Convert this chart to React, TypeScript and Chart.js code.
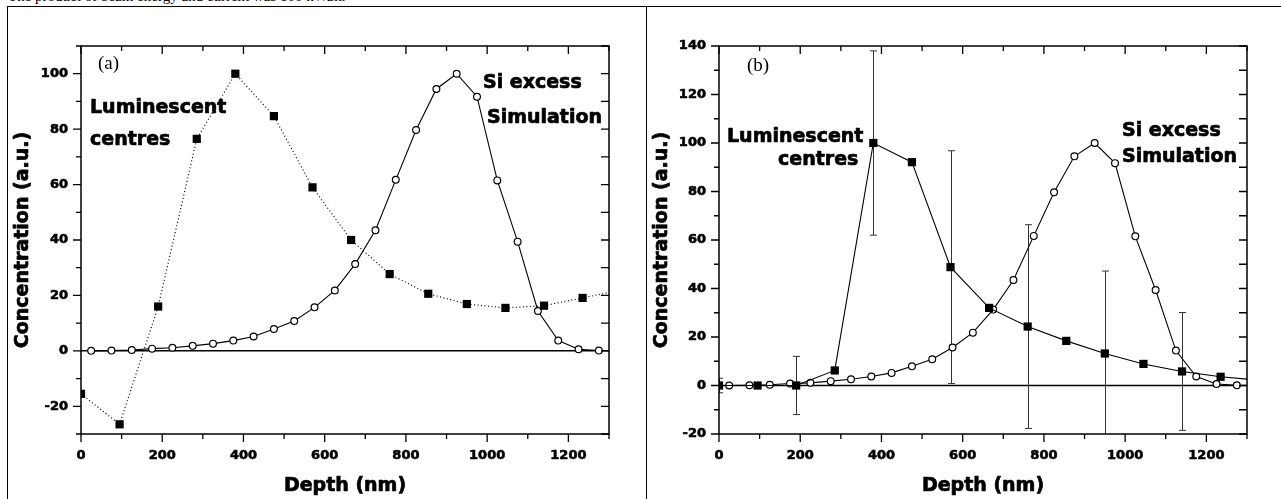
import React, { useEffect, useRef } from "react";
import { Chart, registerables } from "chart.js";
Chart.register(...registerables);

// ---------- data ----------
const depthLumA = [0, 95, 190, 285, 380, 475, 570, 665, 760, 855, 950, 1045, 1140, 1235, 1330];
const lumA = [-15.5, -26.5, 16, 76.5, 100, 84.7, 59, 40, 27.7, 20.6, 16.9, 15.5, 16.3, 19.1, 22];

const depthSim = [25, 75, 125, 175, 225, 275, 325, 375, 425, 475, 525, 575, 625, 675, 725, 775, 825, 875, 925, 975, 1025, 1075, 1125, 1175, 1225, 1275];
const simValues = [0, 0.1, 0.3, 0.8, 1.1, 1.8, 2.6, 3.7, 5.2, 7.9, 10.8, 15.7, 21.8, 31.3, 43.5, 61.7, 79.7, 94.5, 100, 91.7, 61.5, 39.4, 14.4, 3.7, 0.6, 0.1];

const depthLumB = [0, 95, 190, 285, 380, 475, 570, 665, 760, 855, 950, 1045, 1140, 1235, 1330];
const lumB = [0, 0, 0, 6.2, 100, 92.1, 48.8, 32, 24.3, 18.4, 13.2, 8.9, 5.8, 3.6, 2.2];
const lumBErr = [3, 0, 12, 0, 38, 0, 48, 0, 42, 0, 34, 0, 24.3, 0, 0];

const xTicks = [0, 200, 400, 600, 800, 1000, 1200];
const yTicksA = [-20, 0, 20, 40, 60, 80, 100];
const yTicksB = [-20, 0, 20, 40, 60, 80, 100, 120, 140];

const xTitle = "Depth (nm)";
const yTitle = "Concentration (a.u.)";
const headerText = "The product of beam energy and current was 100 kWatt.";

const SANS = "'DejaVu Sans', sans-serif";
const SERIF = "'Liberation Serif', 'Times New Roman', serif";

type Ann = { text: string; dx: number; dy: number; font: string; heavy?: boolean };

function pts(xs: number[], ys: number[]) {
  return xs.map((x, i) => ({ x, y: ys[i] }));
}

function heavyText(ctx: CanvasRenderingContext2D, text: string, x: number, y: number) {
  ctx.fillText(text, x, y);
  ctx.strokeText(text, x, y);
}

function makePlugin(cfg: {
  xMin: number; xMax: number; yMin: number; yMax: number;
  err?: { xs: number[]; ys: number[]; e: number[] };
  anns: Ann[];
}) {
  return {
    id: "frameDeco",
    beforeDatasetsDraw(chart: any) {
      const { ctx, chartArea: a, scales } = chart;
      const x = scales.x, y = scales.y;
      ctx.save();
      ctx.beginPath();
      ctx.rect(a.left, a.top, a.right - a.left, a.bottom - a.top);
      ctx.clip();
      const y0 = y.getPixelForValue(0);
      ctx.strokeStyle = "#000";
      ctx.lineWidth = 1.5;
      ctx.beginPath();
      ctx.moveTo(a.left, y0);
      ctx.lineTo(a.right, y0);
      ctx.stroke();
      if (cfg.err) {
        ctx.strokeStyle = "#333";
        ctx.lineWidth = 1;
        cfg.err.xs.forEach((xv, i) => {
          const e = cfg.err!.e[i];
          if (!e) return;
          const px = Math.round(x.getPixelForValue(xv)) + 0.5;
          const top = y.getPixelForValue(cfg.err!.ys[i] + e);
          const bot = y.getPixelForValue(cfg.err!.ys[i] - e);
          ctx.beginPath();
          ctx.moveTo(px, top);
          ctx.lineTo(px, bot);
          ctx.moveTo(px - 3.5, top);
          ctx.lineTo(px + 3.5, top);
          ctx.moveTo(px - 3.5, bot);
          ctx.lineTo(px + 3.5, bot);
          ctx.stroke();
        });
      }
      ctx.restore();
    },
    afterDraw(chart: any) {
      const { ctx, chartArea: a, scales } = chart;
      const x = scales.x, y = scales.y;
      ctx.save();
      ctx.strokeStyle = "#000";
      ctx.lineWidth = 1.5;
      ctx.strokeRect(a.left, a.top, a.right - a.left, a.bottom - a.top);
      ctx.lineWidth = 1.3;
      ctx.beginPath();
      for (let v = cfg.xMin; v <= cfg.xMax; v += 100) {
        const px = x.getPixelForValue(v);
        const major = v % 200 === 0;
        const len = major ? 8 : 5;
        ctx.moveTo(px, a.bottom);
        ctx.lineTo(px, a.bottom + len);
        ctx.moveTo(px, a.top);
        ctx.lineTo(px, a.top + len);
      }
      for (let v = cfg.yMin; v <= cfg.yMax; v += 10) {
        const py = y.getPixelForValue(v);
        const major = v % 20 === 0;
        const len = major ? 8 : 5;
        ctx.moveTo(a.left - len, py);
        ctx.lineTo(a.left, py);
        ctx.moveTo(a.right - 8, py);
        ctx.lineTo(a.right, py);
      }
      ctx.stroke();

      ctx.fillStyle = "#000";
      ctx.strokeStyle = "#000";
      ctx.lineWidth = 0.7;
      ctx.lineJoin = "round";
      // axis titles
      ctx.font = `bold 19px ${SANS}`;
      ctx.textAlign = "center";
      ctx.textBaseline = "middle";
      heavyText(ctx, xTitle, (a.left + a.right) / 2, 479);
      ctx.save();
      ctx.translate(15, (a.top + a.bottom) / 2);
      ctx.rotate(-Math.PI / 2);
      heavyText(ctx, yTitle, 0, 0);
      ctx.restore();
      // annotations
      ctx.textBaseline = "alphabetic";
      ctx.textAlign = "left";
      cfg.anns.forEach((an) => {
        ctx.font = an.font;
        if (an.heavy) heavyText(ctx, an.text, a.left + an.dx, a.top + an.dy);
        else ctx.fillText(an.text, a.left + an.dx, a.top + an.dy);
      });
      ctx.restore();
    },
  };
}

function makeConfig(opts: {
  datasets: any[]; yTicks: number[]; yMin: number; yMax: number;
  padRight: number; yWidth: number; plugin: any;
}) {
  const tickFont = { family: SANS, weight: "bold" as const, size: 13 };
  return {
    type: "line" as const,
    data: { datasets: opts.datasets },
    plugins: [opts.plugin],
    options: {
      animation: false as const,
      responsive: false,
      maintainAspectRatio: false,
      layout: { padding: { left: 0, top: 39, right: opts.padRight, bottom: 0 } },
      plugins: { legend: { display: false }, tooltip: { enabled: false } },
      events: [],
      scales: {
        x: {
          type: "linear" as const,
          min: 0,
          max: 1300,
          afterBuildTicks: (s: any) => { s.ticks = xTicks.map((v) => ({ value: v })); },
          afterFit: (s: any) => { s.height = 65; },
          grid: { display: false, drawTicks: false },
          border: { display: false },
          ticks: {
            font: tickFont, color: "#000", padding: 14, maxRotation: 0, autoSkip: false,
            textStrokeColor: "#000", textStrokeWidth: 0.6,
            callback: (v: any) => String(v),
          },
          title: { display: false },
        },
        y: {
          type: "linear" as const,
          min: opts.yMin,
          max: opts.yMax,
          afterBuildTicks: (s: any) => { s.ticks = opts.yTicks.map((v) => ({ value: v })); },
          afterFit: (s: any) => { s.width = opts.yWidth; },
          grid: { display: false, drawTicks: false },
          border: { display: false },
          ticks: {
            font: tickFont, color: "#000", padding: 13, autoSkip: false,
            textStrokeColor: "#000", textStrokeWidth: 0.6,
            callback: (v: any) => String(v),
          },
          title: { display: false },
        },
      },
    },
  };
}

const squareStyle = {
  pointStyle: "rect",
  pointRadius: 5.8,
  pointBackgroundColor: "#000",
  pointBorderColor: "#000",
  pointBorderWidth: 0,
  borderColor: "#000",
  fill: false,
  tension: 0,
};
const circleStyle = {
  pointStyle: "circle",
  pointRadius: 3.4,
  pointBackgroundColor: "#fff",
  pointBorderColor: "#000",
  pointBorderWidth: 1.2,
  borderColor: "#000",
  borderWidth: 1.1,
  fill: false,
  tension: 0,
};

function ChartCanvas({ build, left, width }: { build: () => any; left: number; width: number }) {
  const ref = useRef<HTMLCanvasElement | null>(null);
  useEffect(() => {
    if (!ref.current) return;
    const chart = new Chart(ref.current, build());
    return () => chart.destroy();
  }, []);
  return (
    <canvas
      ref={ref}
      width={width}
      height={492}
      style={{ position: "absolute", left, top: 7, width, height: 492 }}
    />
  );
}

export default function App() {
  const bold = `bold 19px ${SANS}`;
  const buildA = () =>
    makeConfig({
      datasets: [
        { ...squareStyle, data: pts(depthLumA, lumA), borderWidth: 1.2, borderDash: [1, 2.5] },
        { ...circleStyle, data: pts(depthSim, simValues) },
      ],
      yTicks: yTicksA,
      yMin: -30,
      yMax: 110,
      padRight: 37,
      yWidth: 73,
      plugin: makePlugin({
        xMin: 0, xMax: 1300, yMin: -30, yMax: 110,
        anns: [
          { text: "(a)", dx: 17, dy: 23, font: `19px ${SERIF}` },
          { text: "Luminescent", dx: 9, dy: 67, font: bold, heavy: true },
          { text: "centres", dx: 9, dy: 99, font: bold, heavy: true },
          { text: "Si excess", dx: 402, dy: 42, font: bold, heavy: true },
          { text: "Simulation", dx: 406, dy: 77, font: bold, heavy: true },
        ],
      }),
    });
  const buildB = () =>
    makeConfig({
      datasets: [
        { ...squareStyle, data: pts(depthLumB, lumB), borderWidth: 1.1 },
        { ...circleStyle, data: pts(depthSim, simValues) },
      ],
      yTicks: yTicksB,
      yMin: -20,
      yMax: 140,
      padRight: 34,
      yWidth: 72,
      plugin: makePlugin({
        xMin: 0, xMax: 1300, yMin: -20, yMax: 140,
        err: { xs: depthLumB, ys: lumB, e: lumBErr },
        anns: [
          { text: "(b)", dx: 28, dy: 25, font: `19px ${SERIF}` },
          { text: "Luminescent", dx: 8, dy: 96, font: bold, heavy: true },
          { text: "centres", dx: 59, dy: 119, font: bold, heavy: true },
          { text: "Si excess", dx: 403, dy: 90, font: bold, heavy: true },
          { text: "Simulation", dx: 403, dy: 116, font: bold, heavy: true },
        ],
      }),
    });

  return (
    <div
      style={{
        position: "absolute",
        left: 0,
        top: 0,
        width: 1281,
        height: 499,
        overflow: "hidden",
        background: "#fff",
      }}
    >
      <div
        style={{
          position: "absolute",
          left: 8,
          top: -11,
          fontFamily: SERIF,
          fontSize: 15,
          lineHeight: "15px",
          whiteSpace: "nowrap",
          color: "#000",
        }}
      >
        {headerText}
      </div>
      <div style={{ position: "absolute", left: 7, top: 6, width: 1274, height: 1, background: "#000" }} />
      <div style={{ position: "absolute", left: 7, top: 6, width: 1, height: 493, background: "#000" }} />
      <div style={{ position: "absolute", left: 646, top: 6, width: 1, height: 493, background: "#000" }} />
      <ChartCanvas build={buildA} left={8} width={638} />
      <ChartCanvas build={buildB} left={647} width={634} />
    </div>
  );
}
